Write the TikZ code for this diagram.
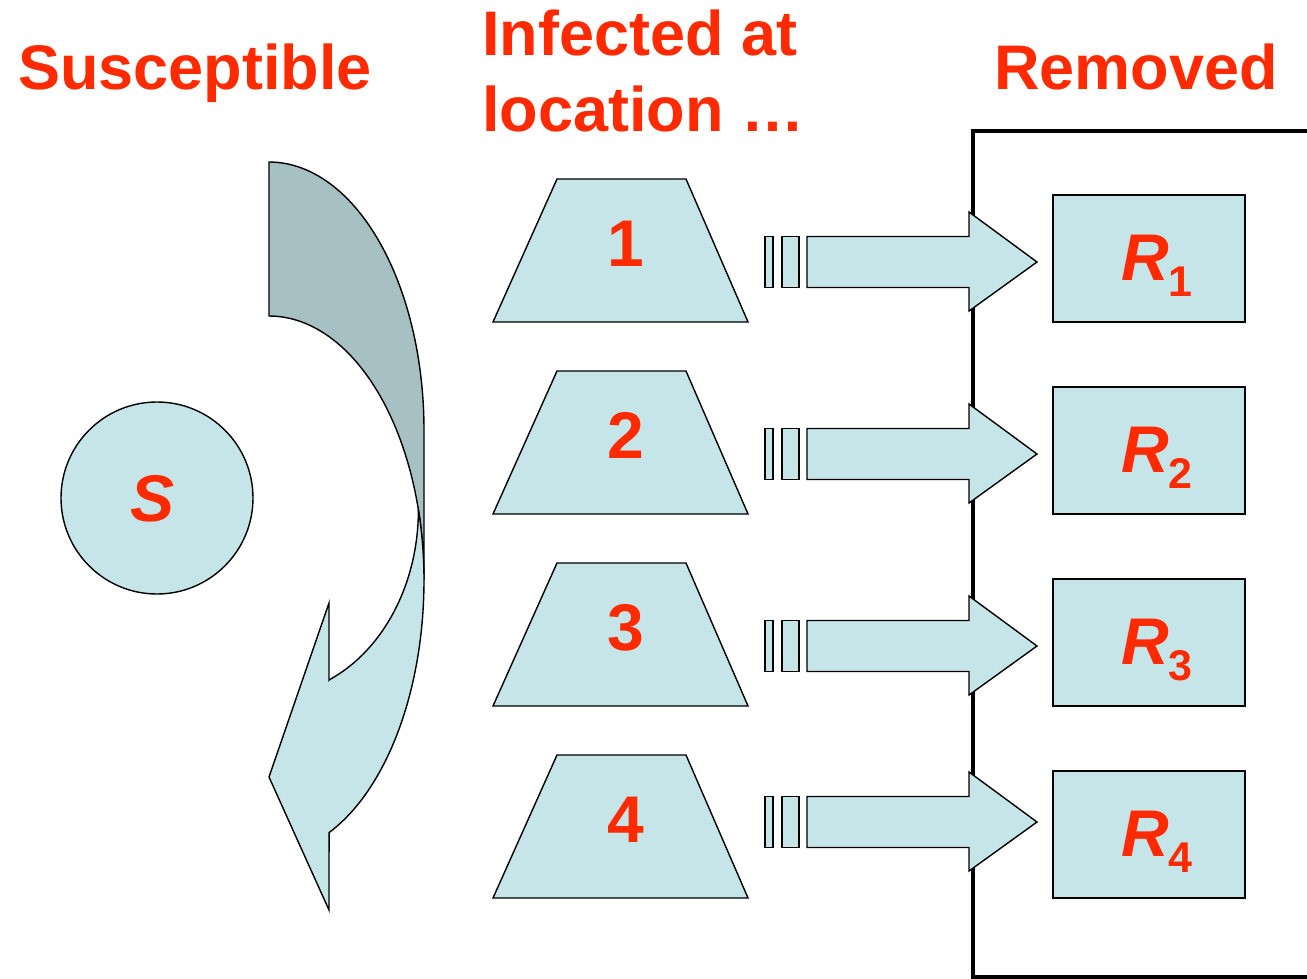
\documentclass[tikz,border=0pt]{standalone}
\usepackage{fontspec}
\setmainfont{Liberation Sans}
\definecolor{redtxt}{HTML}{FF2A00}
\definecolor{lblue}{HTML}{C6E5E8}
\definecolor{dblue}{HTML}{A7C0C3}
\begin{document}
\begin{tikzpicture}[x=1pt,y=-1pt,line join=miter,
  shp/.style={draw=black,line width=1.4pt,fill=lblue},
  ttl/.style={text=redtxt,font=\fontsize{63}{76}\selectfont\bfseries,anchor=base west,inner sep=0pt},
  num/.style={text=redtxt,font=\fontsize{66}{70}\selectfont\bfseries,anchor=base,inner sep=0pt},
  rlab/.style={text=redtxt,font=\fontsize{66}{70}\selectfont\bfseries\itshape,anchor=base,inner sep=0pt}]
\useasboundingbox (0,0) rectangle (1307,979);
% titles
\node[ttl] (tS) at (18,90) {Susceptible};
\node[ttl] (tI1) at (482,56) {Infected at};
\node[ttl] (tI2) at (482,132) {location …};
\node[ttl] (tR) at (994,90) {Removed};
% removed box
\draw[line width=4pt] (1312,131) -- (973,131) -- (973,977) -- (1312,977);
% S circle
\draw[shp] (157,498) circle[radius=96];
\node[rlab] (S) at (153,521) {S};
% curved arrow, back part
\draw[shp,fill=dblue] (269,316) -- (269,162)
  -- plot[domain=-90:0,samples=60] ({269+155*cos(\x)},{430+268*sin(\x)})
  -- (424,580)
  -- plot[domain=0:-90,samples=60] ({269+155*cos(\x)},{580+264*sin(\x)}) -- cycle;
% curved arrow, front part
\draw[shp] (329,680)
  -- plot[domain=66.3:0,samples=50] ({269+149.4*cos(\x)},{510+185.6*sin(\x)})
  -- plot[domain=-15.4:0,samples=20] ({269+155*cos(\x)},{580+264*sin(\x)})
  -- plot[domain=0:67.2,samples=60] ({269+155*cos(\x)},{580+274*sin(\x)})
  -- (329,910) -- (269,777) -- (329,603) -- cycle;
% trapezoids, arrows, boxes
\foreach \i/\y/\c in {1/179/262,2/371/454,3/563/646,4/755/822}{
  \draw[shp] (493,\y+143) -- (557,\y) -- (686,\y) -- (748,\y+143) -- cycle;
  \node[num] (n\i) at (626,\y+87) {\i};
  \draw[shp] (765,\c-25.5) rectangle (773,\c+25.5);
  \draw[shp] (782,\c-25.5) rectangle (799,\c+25.5);
  \draw[shp] (807,\c-25.5) -- (969,\c-25.5) -- (969,\c-50) -- (1037,\c)
    -- (969,\c+49) -- (969,\c+25.5) -- (807,\c+25.5) -- cycle;
  \draw[shp] (1053,\y+16) rectangle (1245,\y+143);
  \node[rlab] (r\i) at (1157,\y+101) {R\raisebox{-16pt}{\fontsize{43}{45}\selectfont\upshape\i}};
}
\end{tikzpicture}
\end{document}
